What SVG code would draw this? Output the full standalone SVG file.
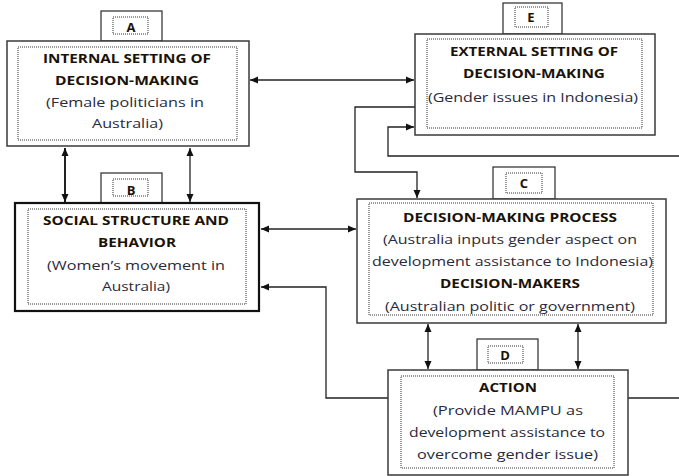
<svg xmlns="http://www.w3.org/2000/svg" width="679" height="476" viewBox="0 0 679 476">
<style>
.outer{fill:#fff;stroke:#3a3a3a;stroke-width:1.5}
.thick{stroke:#111;stroke-width:2.2}
.inner{fill:none;stroke:#333;stroke-width:1;stroke-dasharray:1 1}
.tab{fill:#fff;stroke:#3a3a3a;stroke-width:1.3}
.t{font-family:"Open Sans","Liberation Sans",sans-serif;font-size:13px;text-anchor:middle;fill:#2a2a3a}
.b{font-weight:bold;fill:#1a1208}
.c{fill:none;stroke:#222;stroke-width:1.3}
</style>
<defs>
<marker id="ah" viewBox="0 0 8 8" refX="8" refY="4" markerWidth="8" markerHeight="8" markerUnits="userSpaceOnUse" orient="auto-start-reverse">
<path d="M0,0.5 L8,4 L0,7.5 z" fill="#111"/>
</marker>
</defs>
<g id="connectors">
<path class="c" d="M250,80 H414" marker-start="url(#ah)" marker-end="url(#ah)"/>
<path class="c" style="stroke-width:2" d="M65,148 V202" marker-start="url(#ah)" marker-end="url(#ah)"/>
<path class="c" d="M190,148 V202" marker-start="url(#ah)" marker-end="url(#ah)"/>
<path class="c" d="M261,229 H356" marker-start="url(#ah)" marker-end="url(#ah)"/>
<path class="c" d="M415,107 H355 V172 H417 V198" marker-end="url(#ah)"/>
<path class="c" d="M679,156 H388 V127 H414" marker-end="url(#ah)"/>
<path class="c" d="M388,398 H326 V287 H261" marker-end="url(#ah)"/>
<path class="c" d="M428,324 V369" marker-start="url(#ah)" marker-end="url(#ah)"/>
<path class="c" d="M578,324 V369" marker-start="url(#ah)" marker-end="url(#ah)"/>
<path class="c" d="M628,398 H679"/>
</g>
<g id="nodeA">
<rect class="tab" x="101" y="11" width="61" height="30"/>
<rect class="inner" x="113" y="17" width="35" height="17"/>
<text class="t b" x="131" y="31.5">A</text>
<rect class="outer" x="7" y="41" width="242" height="105"/>
<rect class="inner" x="18" y="47" width="219" height="93"/>
<text class="t b" x="127" y="62.5" textLength="168" lengthAdjust="spacingAndGlyphs">INTERNAL SETTING OF</text>
<text class="t b" x="127" y="85" textLength="144" lengthAdjust="spacingAndGlyphs">DECISION-MAKING</text>
<text class="t" x="125" y="107" textLength="158" lengthAdjust="spacingAndGlyphs">(Female politicians in</text>
<text class="t" x="127.5" y="128" textLength="71" lengthAdjust="spacingAndGlyphs">Australia)</text>
</g>
<g id="nodeE">
<rect class="tab" x="503" y="3" width="59" height="31"/>
<rect class="inner" x="515" y="7" width="33" height="20"/>
<text class="t b" x="531" y="22">E</text>
<rect class="outer" x="415" y="34" width="240" height="101"/>
<rect class="inner" x="427" y="39" width="215" height="89"/>
<text class="t b" x="534" y="56" textLength="168" lengthAdjust="spacingAndGlyphs">EXTERNAL SETTING OF</text>
<text class="t b" x="534" y="78" textLength="142" lengthAdjust="spacingAndGlyphs">DECISION-MAKING</text>
<text class="t" x="533" y="101.5" textLength="210" lengthAdjust="spacingAndGlyphs">(Gender issues in Indonesia)</text>
</g>
<g id="nodeB">
<rect class="tab" x="101" y="173" width="61" height="30"/>
<rect class="inner" x="113" y="179" width="35" height="17"/>
<text class="t b" x="131" y="195">B</text>
<rect class="outer thick" x="15" y="203" width="244" height="108"/>
<rect class="inner" x="28" y="209" width="218" height="95"/>
<text class="t b" x="136" y="225" textLength="186" lengthAdjust="spacingAndGlyphs">SOCIAL STRUCTURE AND</text>
<text class="t b" x="137" y="247" textLength="78" lengthAdjust="spacingAndGlyphs">BEHAVIOR</text>
<text class="t" x="136" y="270" textLength="178" lengthAdjust="spacingAndGlyphs">(Women’s movement in</text>
<text class="t" x="136" y="291" textLength="68" lengthAdjust="spacingAndGlyphs">Australia)</text>
</g>
<g id="nodeC">
<rect class="tab" x="493" y="167" width="62" height="32"/>
<rect class="inner" x="506" y="173" width="36" height="20"/>
<text class="t b" x="524" y="188">C</text>
<rect class="outer" x="357" y="199" width="309" height="124"/>
<rect class="inner" x="369" y="203" width="284" height="112"/>
<text class="t b" x="510" y="221.5" textLength="214" lengthAdjust="spacingAndGlyphs">DECISION-MAKING PROCESS</text>
<text class="t" x="510" y="244" textLength="254" lengthAdjust="spacingAndGlyphs">(Australia inputs gender aspect on</text>
<text class="t" x="512.5" y="266" textLength="281" lengthAdjust="spacingAndGlyphs">development assistance to Indonesia)</text>
<text class="t b" x="510" y="287.5" textLength="140" lengthAdjust="spacingAndGlyphs">DECISION-MAKERS</text>
<text class="t" x="510" y="310.5" textLength="250" lengthAdjust="spacingAndGlyphs">(Australian politic or government)</text>
</g>
<g id="nodeD">
<rect class="tab" x="477" y="339" width="61" height="31"/>
<rect class="inner" x="488" y="346" width="35" height="17"/>
<text class="t b" x="505" y="360">D</text>
<rect class="outer" x="388" y="370" width="240" height="105"/>
<rect class="inner" x="401" y="376" width="213" height="92"/>
<text class="t b" x="508" y="391.5" textLength="58" lengthAdjust="spacingAndGlyphs">ACTION</text>
<text class="t" x="508" y="414.5" textLength="150" lengthAdjust="spacingAndGlyphs">(Provide MAMPU as</text>
<text class="t" x="507" y="437" textLength="196" lengthAdjust="spacingAndGlyphs">development assistance to</text>
<text class="t" x="507.5" y="459" textLength="181" lengthAdjust="spacingAndGlyphs">overcome gender issue)</text>
</g>
</svg>
